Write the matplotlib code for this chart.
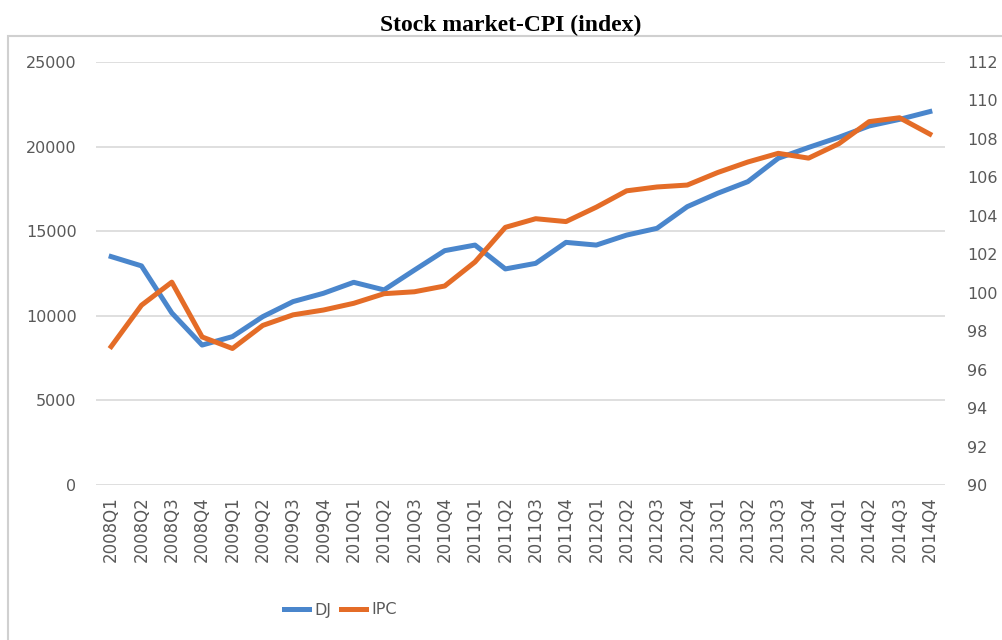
import matplotlib.pyplot as plt
from matplotlib.patches import Rectangle

quarters = [f"{y}Q{q}" for y in range(2008, 2015) for q in range(1, 5)]

dj = [13500, 12950, 10170, 8270, 8770, 9950, 10840, 11330, 11980, 11530,
      12700, 13850, 14180, 12770, 13100, 14340, 14180, 14770, 15170, 16450,
      17240, 17930, 19310, 19950, 20550, 21220, 21610, 22070]

ipc = [97.2, 99.35, 100.55, 97.7, 97.1, 98.3, 98.85, 99.1, 99.45, 99.95,
       100.05, 100.35, 101.6, 103.4, 103.85, 103.7, 104.45, 105.3, 105.5, 105.6,
       106.25, 106.8, 107.25, 107.0, 107.75, 108.9, 109.1, 108.25]

blue = "#4a86cc"
orange = "#e46c27"
grey_txt = "#595959"

fig = plt.figure(figsize=(10.02, 6.40), dpi=100)
# chart frame (open on the right and bottom like the cropped original)
fig.patches.append(Rectangle((8 / 1002, -0.1), 1.2, 1.1 - 36 / 640, transform=fig.transFigure,
                             fill=False, edgecolor="#d0d0d0", linewidth=1.5))

ax = fig.add_axes([96 / 1002, 1 - 485 / 640, 849 / 1002, 423 / 640])
ax2 = ax.twinx()

x = range(len(quarters))
l1, = ax.plot(x, dj, color=blue, linewidth=3.6, label="DJ")
l2, = ax2.plot(x, ipc, color=orange, linewidth=3.6, label="IPC")

ax.set_xlim(-0.5, len(quarters) - 0.5)
ax.set_ylim(0, 25000)
ax.set_yticks(range(0, 25001, 5000))
ax2.set_ylim(90, 112)
ax2.set_yticks(range(90, 113, 2))

ax.set_xticks(list(x))
ax.set_xticklabels(quarters, rotation=90)
ax.grid(axis="y", color="#d9d9d9", linewidth=1.2)
ax.set_axisbelow(True)

for a in (ax, ax2):
    for s in a.spines.values():
        s.set_visible(False)
    a.tick_params(length=0, labelsize=11.5, labelcolor=grey_txt)
ax.tick_params(axis="y", pad=14)
ax.tick_params(axis="x", pad=8, labelsize=12)
ax2.tick_params(axis="y", pad=16)

fig.text(0.51, 1 - 25 / 640, "Stock market-CPI (index)", ha="center", va="center",
         family="Liberation Serif", fontweight="bold", fontsize=17)

fig.legend([l1, l2], ["DJ", "IPC"], loc="center", bbox_to_anchor=(340 / 1002, 1 - 610 / 640),
           ncol=2, frameon=False, fontsize=11.5, handlelength=1.6, columnspacing=0.6,
           handletextpad=0.3, labelcolor=grey_txt)

fig.savefig("out.png", dpi=100)
